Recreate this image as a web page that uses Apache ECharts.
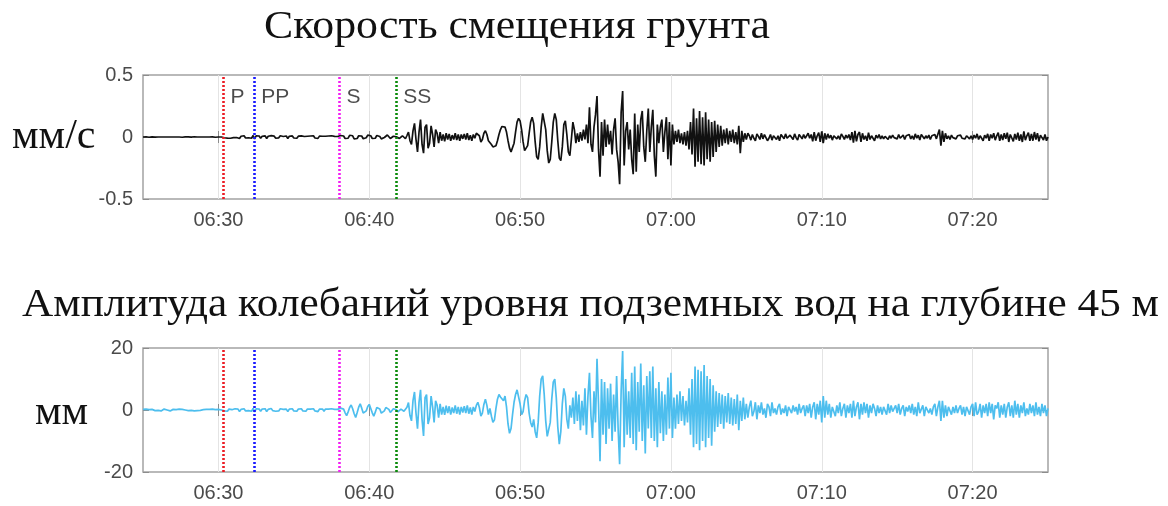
<!DOCTYPE html>
<html>
<head>
<meta charset="utf-8">
<script src="https://cdn.jsdelivr.net/npm/echarts@6.0.0/dist/echarts.min.js"></script>
<style>
html,body{margin:0;padding:0;background:#fff;}
#chart{width:1168px;height:506px;}
</style>
</head>
<body>
<div id="chart"></div>
<script>
// ---------------- DATA ----------------
const startTime = '06:25:00';
const endTime = '07:25:00';
const sampleStepSeconds = 6;
const tickLabels = ['06:30', '06:40', '06:50', '07:00', '07:10', '07:20'];

const titleTop = 'Скорость смещения грунта';
const titleBottom = 'Амплитуда колебаний уровня подземных вод на глубине 45 м';
const unitTop = 'мм/с';
const unitBottom = 'мм';

const phaseNames = ['P', 'PP', 'S', 'SS'];
const phaseTimes = ['06:30:20', '06:32:23', '06:38:02', '06:41:47'];
const phaseColors = ['#ec1c24', '#1a1aff', '#f21ff2', '#0a8a0a'];

const velocityTicks = [-0.5, 0, 0.5];
const waterTicks = [-20, 0, 20];

// ground velocity, mm/s, one row per minute (6 s samples)
const velocity = [
0,0,0.002,0,-0.002,0,0.001,0,-0.001,0,
0,0.001,0,-0.001,0,0.002,0,-0.001,0,0.001,
0,-0.001,0,0.001,0,0,-0.002,0,0.001,0,
0.001,0,-0.001,0,0.002,0,0,-0.001,0,0,
0,0.001,0,-0.001,0,0,0.001,0,-0.002,0,
0,0,0,0.008,-0.006,0.01,-0.009,0.006,-0.01,0.004,
-0.005,0.009,-0.004,0.007,-0.012,0.006,-0.003,0.01,-0.008,0.004,
-0.006,0.005,-0.01,0.012,-0.015,0.01,-0.006,0.008,-0.011,0.006,
-0.004,0.009,-0.012,0.006,-0.008,0.011,-0.005,0.007,-0.01,0.005,
-0.007,0.01,-0.006,0.004,-0.009,0.008,-0.012,0.006,-0.004,0.009,
-0.008,0.005,-0.01,0.007,-0.005,0.009,-0.007,0.004,-0.009,0.006,
-0.005,0.008,-0.006,0.01,-0.008,0.005,-0.011,0.007,-0.004,0.006,
-0.009,0.006,-0.005,0.008,-0.007,0.01,-0.006,0.005,-0.008,0.004,
-0.005,0.012,0.02,0.008,-0.012,-0.022,-0.01,0.014,0.025,0.01,
-0.015,-0.028,-0.012,0.01,0.022,0.008,-0.014,-0.02,-0.006,0.015,
0.024,0.01,-0.012,-0.026,-0.01,0.012,0.02,0.004,-0.015,-0.018,
-0.004,0.012,0.016,0.003,-0.012,-0.01,0.006,0.014,0.002,-0.01,
-0.012,0.004,0.01,-0.006,-0.014,0.012,0.04,-0.03,-0.06,0.05,
0.11,-0.02,-0.12,0.04,0.14,-0.06,-0.13,0.08,0.1,-0.09,
-0.05,0.09,0.02,-0.08,0.06,0.03,-0.05,0.04,-0.03,0.02,
-0.035,0.03,-0.02,0.025,-0.03,0.015,-0.02,0.03,-0.025,0.02,
-0.03,0.02,-0.015,0.025,-0.02,0.03,-0.025,0.015,-0.03,0.02,
-0.01,0.03,0.045,0.01,-0.04,-0.02,0.03,0.05,0.02,-0.03,
-0.03,-0.06,-0.08,-0.09,-0.07,-0.03,0.02,0.06,0.085,0.09,
0.08,0.04,-0.03,-0.09,-0.12,-0.11,-0.05,0.04,0.12,0.15,
0.13,0.06,-0.04,-0.11,-0.12,-0.07,0.03,0.12,0.16,0.11,
-0.04,-0.16,-0.18,-0.08,0.08,0.19,0.18,0.06,-0.11,-0.21,
-0.18,-0.04,0.12,0.19,0.14,-0.03,-0.17,-0.19,-0.08,0.1,
0.13,0.02,-0.12,-0.15,-0.02,0.12,0.06,-0.05,0.03,-0.04,
0.04,-0.03,0.06,-0.02,0.1,-0.05,0.24,-0.06,-0.12,0.08,
0.18,0.33,-0.1,-0.32,0.12,-0.15,0.14,-0.08,0.1,-0.06,
0.05,-0.14,0.06,0.15,-0.1,-0.2,-0.38,0.2,0.37,-0.23,
0.05,0.12,-0.1,0.06,-0.18,-0.3,0.19,-0.28,0.1,-0.12,
0.14,0.21,-0.08,-0.2,0.05,0.23,-0.12,0.08,0.22,-0.15,
-0.32,0.1,-0.05,0.08,0.14,-0.12,0.04,0.16,-0.18,0.12,
-0.23,0.1,-0.06,0.05,-0.04,0.06,-0.05,0.03,-0.06,0.04,
-0.07,0.05,-0.1,0.12,-0.14,0.23,-0.24,0.15,-0.2,0.21,
-0.22,0.16,-0.23,0.2,-0.18,0.14,-0.2,0.12,-0.16,0.13,
-0.12,0.1,-0.08,0.09,-0.07,0.06,-0.05,0.07,-0.06,0.05,
-0.04,0.06,-0.05,0.04,-0.06,0.09,-0.13,0.05,-0.04,0.03,
-0.02,0.03,0.01,-0.025,0.02,-0.01,-0.03,0.025,0.005,-0.02,
0.03,-0.015,0.02,0.035,-0.03,-0.01,0.02,-0.025,0.01,0.015,
-0.02,0.01,-0.03,0.02,0.005,-0.015,0.025,-0.01,-0.02,0.015,
0.01,-0.02,0.025,-0.005,-0.025,0.02,0.01,-0.015,0.02,-0.01,
-0.02,0.03,-0.01,0.02,-0.035,0.04,-0.03,0.01,0.035,-0.04,
0.045,-0.05,0.03,-0.02,0.025,-0.01,0.015,-0.025,0.01,0.02,
-0.015,0.01,-0.02,0.025,0.005,-0.02,0.015,-0.01,0.02,-0.025,
0.04,-0.045,0.05,-0.035,0.02,0.04,-0.04,0.03,-0.02,0.01,
-0.03,0.035,-0.02,0.01,0.025,-0.03,0.015,-0.01,0.02,-0.015,
0.01,-0.015,0.005,0.015,-0.02,0.01,-0.01,0.015,-0.005,0.01,
-0.015,0.02,-0.01,0.005,0.015,-0.02,0.01,-0.005,0.02,-0.015,
0.01,-0.02,0.025,-0.01,0.015,-0.025,0.02,0.005,-0.015,0.01,
-0.01,0.015,-0.02,0.01,-0.005,0.02,-0.015,-0.03,0.06,-0.07,
0.05,-0.04,0.03,-0.015,0.01,-0.02,0.015,-0.005,0.01,-0.015,
0.01,-0.005,0.015,-0.01,0.005,-0.015,0.01,0.02,-0.015,0.01,
-0.02,0.015,-0.01,0.025,-0.02,0.01,0.02,-0.03,0.015,-0.01,
0.025,-0.03,0.02,-0.01,0.03,-0.025,0.01,0.035,-0.03,0.02,
-0.025,0.03,-0.015,0.035,-0.04,0.02,0.03,-0.035,0.025,-0.02,
0.035,-0.03,0.02,-0.04,0.045,-0.025,0.01,0.035,-0.03,0.025,
-0.03,0.04,-0.02,0.03,-0.035,0.015,0.03,-0.025,0.02,-0.03,
0
];

// groundwater level oscillation at 45 m, mm, one row per minute (6 s samples)
const waterLevel = [
0.2,-0.1,0.3,-0.2,0.1,-0.3,0.2,0,-0.2,0.3,
-0.1,0.2,-0.3,0.1,0.3,-0.2,0,0.2,-0.3,0.1,
0.2,-0.2,0.1,-0.1,0.3,-0.3,0.2,-0.1,0,0.2,
-0.2,0.3,-0.1,0.1,-0.3,0.2,-0.2,0.3,-0.1,0,
0.1,-0.3,0.2,-0.1,0.2,-0.2,0.3,-0.1,0.1,-0.2,
0.2,-0.1,0,0.4,-0.3,0.2,-0.4,0.3,-0.2,0.1,
-0.3,0.4,-0.2,0.3,-0.5,0.2,-0.1,0.4,-0.3,0.2,
-0.2,0.3,-0.4,0.5,-0.6,0.4,-0.2,0.3,-0.4,0.3,
-0.1,0.4,-0.5,0.2,-0.3,0.5,-0.2,0.3,-0.4,0.2,
-0.3,0.4,-0.2,0.2,-0.4,0.3,-0.5,0.3,-0.1,0.4,
-0.3,0.2,-0.4,0.3,-0.2,0.4,-0.3,0.1,-0.4,0.3,
-0.2,0.3,-0.3,0.4,-0.3,0.2,-0.5,0.3,-0.2,0.3,
-0.4,0.3,-0.2,0.3,-0.3,0.4,-0.2,0.2,-0.3,0.2,
-0.2,0.6,1.1,0.3,-0.9,-1.8,-0.6,0.8,1.6,0.4,
-1.2,-2.4,-0.8,0.9,2.0,0.6,-1.0,-1.6,-0.3,1.1,
1.8,0.5,-0.9,-2.0,-0.7,0.8,1.4,0.3,-1.0,-1.3,
-0.3,0.8,1.1,0.2,-0.8,-0.7,0.4,0.9,0.1,-0.6,
-0.8,0.3,0.7,-0.4,-1.0,0.9,2.4,-1.8,-3.5,3.0,
5.8,-1.0,-6.0,2.5,6.5,-3.0,-8.4,4.0,5.0,-4.5,
-2.5,4.5,1.0,-4.0,3.0,1.5,-2.5,2.0,-1.5,1.0,
-1.6,1.4,-1.0,1.2,-1.5,0.8,-1.0,1.5,-1.2,1.0,
-1.5,1.0,-0.8,1.2,-1.0,1.5,-1.2,0.8,-1.5,1.0,
-0.5,1.5,2.5,0.8,-2.0,-1.0,1.8,3.5,1.5,-1.5,
0.5,-2.0,-4.0,-3.2,0.5,3.5,5.0,4.2,4.8,3.0,
4.5,1.0,-4.5,-7.5,-6.0,-1.5,2.5,5.0,6.5,6.0,
2.0,-1.5,-0.5,3.0,5.0,4.0,-1.0,-4.0,-5.5,-3.0,
-7.0,-9.0,-4.0,4.5,10.0,11.0,5.0,-3.5,-8.5,-9.0,
-4.0,3.5,9.0,10.0,4.0,-5.5,-11.0,-7.0,2.0,7.0,
4.5,-3.0,-6.0,1.5,-2.5,4.0,-4.5,6.0,-3.5,5.0,
-6.5,3.0,-5.0,7.0,-8.0,4.5,12.0,-2.0,-9.0,6.0,
-4.0,16.5,2.0,-16.5,10.0,-8.0,9.0,-11.0,7.0,-6.0,
8.5,-10.0,5.0,-7.0,11.0,-6.0,-17.5,6.0,19.0,-12.0,
10.0,-8.0,6.0,-9.0,12.0,-11.0,14.0,-13.0,9.0,-7.0,
15.0,-10.0,8.0,-14.0,11.0,-6.0,12.5,-9.0,14.0,-10.0,
7.0,-12.0,9.0,-7.5,6.0,-10.0,5.0,-8.0,10.5,-6.0,
12.0,-9.0,4.0,-6.0,5.0,-4.5,6.0,-3.5,4.5,-5.0,
3.0,-4.0,7.0,-8.0,10.0,-12.0,14.0,-11.0,13.0,-13.0,
12.5,-10.0,14.5,-12.0,11.0,-9.0,10.0,-11.5,8.0,-7.0,
6.0,-5.5,5.5,-4.5,5.0,-6.0,4.5,-4.0,5.5,-4.5,
4.0,-5.0,3.5,-4.5,5.0,-6.5,3.0,-3.5,4.0,-3.0,
2.0,-2.5,1.0,3.0,-2.0,-0.5,2.5,-3.0,1.5,-1.0,
2.5,-1.5,0.5,-2.5,2.0,1.0,-2.0,2.5,-1.0,0.5,
-1.5,1.0,2.0,-1.5,0.5,-1.0,1.5,-2.0,1.0,0.5,
-1.0,1.5,-0.5,1.0,-1.5,2.0,-1.0,0.5,1.5,-2.0,
1.5,-1.0,2.0,-2.5,1.0,2.5,-3.0,2.0,-1.5,3.0,
-4.0,4.5,-2.5,3.0,-1.5,2.0,-2.5,1.0,1.5,-2.0,
1.5,-1.0,2.5,-2.0,0.5,2.0,-2.5,1.5,-1.0,2.0,
-2.5,3.0,-2.0,1.0,2.5,-3.0,2.0,-1.5,2.5,-1.0,
2.0,-2.5,1.5,-1.0,2.0,0.5,-2.0,1.5,-1.0,1.0,
-1.5,1.0,0.5,-1.5,2.0,-1.0,1.5,-0.5,-1.0,1.5,
-1.0,2.0,-1.5,0.5,1.5,-2.0,1.0,-0.5,1.5,-1.0,
2.0,-1.5,1.0,-2.0,2.5,-1.0,-0.5,1.5,-2.0,1.0,
1.5,-1.0,0.5,-1.5,1.0,2.0,-2.0,1.0,3.0,-3.5,
3.0,-2.5,1.5,-2.0,1.0,0.5,-1.5,1.0,-1.0,1.5,
-1.0,0.5,1.5,-1.5,1.0,-2.0,1.0,0.5,-1.5,1.0,
2.0,-2.0,2.5,-1.5,-0.5,2.0,-2.5,1.5,-1.0,2.0,
-2.0,2.5,-1.0,2.0,-3.0,1.5,0.5,2.5,-2.5,1.5,
-1.5,2.0,-2.5,1.0,2.5,-2.0,1.5,-2.5,3.0,-1.5,
2.0,-2.5,1.5,-1.0,2.5,-2.0,0.5,-1.5,2.0,-1.0,
1.5,-2.0,2.5,-1.5,1.0,-2.0,2.0,-1.0,1.5,-2.0,
0.5
];

// ---------------- HELPERS ----------------
function toMinutes(t) { // minutes after 06:00
  const p = t.split(':').map(Number);
  return (p[0] - 6) * 60 + p[1] + (p[2] || 0) / 60;
}
function fmtMinutes(v) {
  const total = Math.round(v);
  const h = 6 + Math.floor(total / 60), m = total % 60;
  return String(h).padStart(2, '0') + ':' + String(m).padStart(2, '0');
}
const x0 = toMinutes(startTime), x1 = toMinutes(endTime);
const tickValues = tickLabels.map(toMinutes);
const toSeries = arr => arr.map((v, i) => [x0 + i * sampleStepSeconds / 60, v]);
const phaseX = phaseTimes.map(toMinutes);

const measureCtx = document.createElement('canvas').getContext('2d');
function fitScale(text, font, targetWidth) {
  measureCtx.font = font;
  return targetWidth / measureCtx.measureText(text).width;
}

// ---------------- STYLE ----------------
const SANS = '"Liberation Sans", Arial, Helvetica, sans-serif';
const TITLE_FONT = '41px "Liberation Serif"';
const tickColor = '#8c8c8c';
const labelColor = '#4a4a4a';
const GRID_LEFT = 143, GRID_W = 905, GRID_H = 124;
const grids = [{top: 75}, {top: 348}];

function xAxes(gridIndex) {
  const common = {
    gridIndex, type: 'value', min: x0, max: x1,
    axisLine: {show: false},
    axisTick: {show: true, inside: true, length: 6, customValues: tickValues,
      lineStyle: {color: tickColor, width: 1}},
  };
  return [
    Object.assign({}, common, {
      position: 'bottom',
      axisLabel: {show: true, customValues: tickValues, formatter: fmtMinutes,
        fontFamily: SANS, fontSize: 20, color: labelColor, margin: 11},
      splitLine: {show: true, lineStyle: {color: '#e4e4e4', width: 1}}
    }),
    Object.assign({}, common, {
      position: 'top', axisLabel: {show: false}, splitLine: {show: false}
    })
  ];
}
function yAxes(gridIndex, ticks) {
  const common = {
    gridIndex, type: 'value', min: ticks[0], max: ticks[ticks.length - 1],
    interval: ticks[1] - ticks[0],
    axisLine: {show: false},
    splitLine: {show: false},
    axisTick: {show: true, inside: true, length: 6, lineStyle: {color: tickColor, width: 1}}
  };
  return [
    Object.assign({}, common, {
      position: 'left',
      axisLabel: {show: true, fontFamily: SANS, fontSize: 20, color: labelColor, margin: 10,
        formatter: v => String(v)}
    }),
    Object.assign({}, common, {position: 'right', axisLabel: {show: false}})
  ];
}

function phaseMarkLine() {
  return {
    silent: true, symbol: 'none', animation: false,
    label: {show: false},
    lineStyle: {type: [2, 2], width: 2.6},
    data: phaseX.map((x, i) => ({xAxis: x, lineStyle: {color: phaseColors[i], type: [2, 2], width: 2.6}}))
  };
}

const chart = echarts.init(document.getElementById('chart'), null, {renderer: 'canvas'});

const option = {
  animation: false,
  backgroundColor: '#ffffff',
  grid: grids.map(g => ({
    left: GRID_LEFT, top: g.top, width: GRID_W, height: GRID_H,
    show: true, borderColor: '#a3a3a3', borderWidth: 1.5, backgroundColor: '#fff'
  })),
  xAxis: [...xAxes(0), ...xAxes(1)],
  yAxis: [...yAxes(0, velocityTicks), ...yAxes(1, waterTicks)],
  series: [
    {
      type: 'line', xAxisIndex: 0, yAxisIndex: 0, data: toSeries(velocity),
      showSymbol: false, symbol: 'none', sampling: null, z: 3,
      lineStyle: {color: '#111111', width: 1.7},
      markLine: phaseMarkLine()
    },
    {
      type: 'line', xAxisIndex: 2, yAxisIndex: 2, data: toSeries(waterLevel),
      showSymbol: false, symbol: 'none', sampling: null, z: 3,
      lineStyle: {color: '#4dbeee', width: 1.7},
      markLine: phaseMarkLine()
    },
    {
      type: 'scatter', xAxisIndex: 0, yAxisIndex: 0, z: 5,
      symbolSize: 0, silent: true,
      data: phaseX.map((x, i) => ({value: [x, velocityTicks[velocityTicks.length - 1] * 0.64], name: phaseNames[i]})),
      label: {show: true, position: 'right', distance: 7, formatter: p => p.name,
        fontFamily: SANS, fontSize: 21, color: '#1e1e1e'}
    }
  ],
  graphic: [
    {type: 'text', x: 264, y: 27, scaleX: fitScale(titleTop, TITLE_FONT, 506),
      style: {text: titleTop, font: TITLE_FONT, fill: '#111', align: 'left', verticalAlign: 'middle'}},
    {type: 'text', x: 22, y: 305, scaleX: fitScale(titleBottom, TITLE_FONT, 1137),
      style: {text: titleBottom, font: TITLE_FONT, fill: '#111', align: 'left', verticalAlign: 'middle'}},
    {type: 'text', x: 12, y: 137,
      style: {text: unitTop, font: '42px "Liberation Serif"', fill: '#111', align: 'left', verticalAlign: 'middle'}},
    {type: 'text', x: 35, y: 413,
      style: {text: unitBottom, font: '42px "Liberation Serif"', fill: '#111', align: 'left', verticalAlign: 'middle'}}
  ]
};
chart.setOption(option);
</script>
</body>
</html>
